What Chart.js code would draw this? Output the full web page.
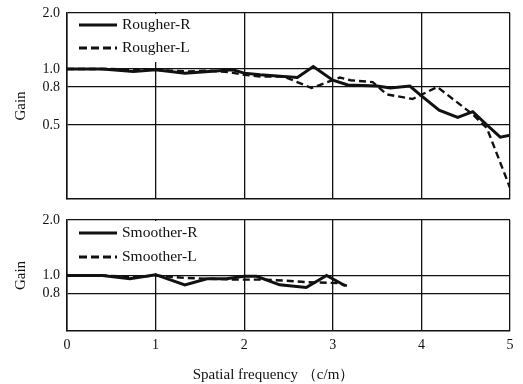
<!DOCTYPE html>
<html>
<head>
<meta charset="utf-8">
<script src="https://cdn.jsdelivr.net/npm/chart.js@4"></script>
<style>
  body { margin: 0; background: #fff; }
  #wrap { position: relative; width: 523px; height: 384px; }
  #top { position: absolute; left: 0; top: 0; width: 523px; height: 205px; }
  #bot { position: absolute; left: 0; top: 205px; width: 523px; height: 179px; }
</style>
</head>
<body>
<div id="wrap">
  <div id="top"><canvas id="c1"></canvas></div>
  <div id="bot"><canvas id="c2"></canvas></div>
</div>
<script>
// x ticks (spatial frequency, c/m)
const xTicks = [0, 1, 2, 3, 4, 5];
const topYTicks = [0.5, 0.8, 1.0, 2.0];
const botYTicks = [0.8, 1.0, 2.0];

// Rougher, right / left
const rougherRx = [0, 0.4, 0.75, 1.0, 1.33, 1.6, 1.87, 2.0, 2.18, 2.6, 2.78, 3.0, 3.17, 3.5, 3.65, 3.87, 3.98, 4.2, 4.41, 4.58, 4.74, 4.89, 5.0];
const rougherRy = [1.0, 1.0, 0.97, 0.99, 0.95, 0.97, 0.99, 0.95, 0.93, 0.90, 1.03, 0.87, 0.82, 0.81, 0.79, 0.81, 0.73, 0.60, 0.55, 0.59, 0.50, 0.43, 0.44];
const rougherLx = [0, 0.5, 1.0, 1.35, 1.6, 1.84, 2.0, 2.2, 2.45, 2.76, 3.08, 3.2, 3.45, 3.61, 3.9, 4.18, 4.58, 4.74, 5.0];
const rougherLy = [1.0, 1.0, 0.99, 0.97, 0.98, 0.96, 0.93, 0.91, 0.91, 0.79, 0.90, 0.87, 0.85, 0.73, 0.69, 0.80, 0.57, 0.48, 0.23];

// Smoother, right / left
const smootherRx = [0, 0.4, 0.71, 1.0, 1.33, 1.58, 1.8, 2.0, 2.14, 2.4, 2.7, 2.93, 3.14];
const smootherRy = [1.0, 1.0, 0.96, 1.01, 0.89, 0.96, 0.96, 0.99, 0.99, 0.89, 0.86, 1.0, 0.88];
const smootherLx = [0, 0.4, 0.75, 1.0, 1.33, 1.6, 1.92, 2.18, 2.44, 2.7, 3.05, 3.16];
const smootherLy = [1.0, 1.0, 0.98, 1.0, 0.97, 0.96, 0.95, 0.95, 0.94, 0.92, 0.91, 0.88];

const FONT = "'Liberation Serif', 'Times New Roman', serif";
const INK = '#111';

function pts(xs, ys) {
  return xs.map((x, i) => ({ x: x, y: ys[i] }));
}

function series(label, xs, ys, dashed) {
  return {
    label: label,
    data: pts(xs, ys),
    borderColor: INK,
    borderWidth: dashed ? 2.4 : 3,
    borderDash: dashed ? [7, 4] : [],
    pointRadius: 0,
    tension: 0,
    fill: false
  };
}

// legend drawn inside the plot, top-left, on a white patch
const innerLegend = {
  id: 'innerLegend',
  afterDatasetsDraw(chart, args, opts) {
    const ctx = chart.ctx;
    const a = chart.chartArea;
    ctx.save();
    ctx.fillStyle = '#fff';
    ctx.fillRect(a.left + 1, a.top + 1, opts.boxW, opts.boxH);
    ctx.font = '15.5px ' + FONT;
    ctx.textBaseline = 'middle';
    chart.data.datasets.forEach((ds, i) => {
      const y = a.top + opts.firstRow + i * opts.rowGap;
      ctx.strokeStyle = INK;
      ctx.lineWidth = 3;
      ctx.setLineDash(ds.borderDash.length ? [8, 4] : []);
      ctx.beginPath();
      ctx.moveTo(a.left + 12, y);
      ctx.lineTo(a.left + 50, y);
      ctx.stroke();
      ctx.setLineDash([]);
      ctx.fillStyle = INK;
      ctx.fillText(ds.label, a.left + 55, y);
    });
    ctx.restore();
  }
};

function yAxis(min, ticks) {
  return {
    type: 'logarithmic',
    min: min,
    max: 2,
    afterFit: s => { s.width = 67; s.paddingTop = 0; s.paddingBottom = 0; },
    afterBuildTicks: s => { s.ticks = ticks.map(v => ({ value: v })); },
    ticks: {
      color: INK,
      font: { family: FONT, size: 14 },
      padding: 7,
      callback: v => v.toFixed(1)
    },
    grid: { color: INK, lineWidth: 1.3, drawTicks: false },
    border: { color: INK, width: 1.5 },
    title: {
      display: true,
      text: 'Gain',
      color: INK,
      font: { family: FONT, size: 15 },
      padding: { top: 12, bottom: 0 }
    }
  };
}

Chart.defaults.animation = false;

new Chart(document.getElementById('c1'), {
  type: 'line',
  data: {
    datasets: [
      series('Rougher-R', rougherRx, rougherRy, false),
      series('Rougher-L', rougherLx, rougherLy, true)
    ]
  },
  options: {
    responsive: true,
    maintainAspectRatio: false,
    layout: { padding: { left: 0, top: 13, right: 13, bottom: 6 } },
    plugins: {
      legend: { display: false },
      tooltip: { enabled: false },
      innerLegend: { boxW: 135, boxH: 48, firstRow: 12, rowGap: 23 }
    },
    scales: {
      x: {
        type: 'linear',
        min: 0,
        max: 5,
        afterFit: s => { s.height = 0; },
        afterBuildTicks: s => { s.ticks = xTicks.map(v => ({ value: v })); },
        ticks: { display: false },
        grid: { color: INK, lineWidth: 1.3, drawTicks: false },
        border: { color: INK, width: 1.5 }
      },
      y: yAxis(0.2, topYTicks)
    }
  },
  plugins: [innerLegend]
});

new Chart(document.getElementById('c2'), {
  type: 'line',
  data: {
    datasets: [
      series('Smoother-R', smootherRx, smootherRy, false),
      series('Smoother-L', smootherLx, smootherLy, true)
    ]
  },
  options: {
    responsive: true,
    maintainAspectRatio: false,
    layout: { padding: { left: 0, top: 15, right: 13, bottom: 0 } },
    plugins: {
      legend: { display: false },
      tooltip: { enabled: false },
      innerLegend: { boxW: 135, boxH: 52, firstRow: 13, rowGap: 24 }
    },
    scales: {
      x: {
        type: 'linear',
        min: 0,
        max: 5,
        afterFit: s => { s.height = 53; },
        afterBuildTicks: s => { s.ticks = xTicks.map(v => ({ value: v })); },
        ticks: {
          color: INK,
          font: { family: FONT, size: 14 },
          padding: 6,
          maxRotation: 0
        },
        grid: { color: INK, lineWidth: 1.3, drawTicks: false },
        border: { color: INK, width: 1.5 },
        title: {
          display: true,
          text: 'Spatial frequency （c/m）　　',
          color: INK,
          font: { family: FONT, size: 15 },
          padding: { top: 0, bottom: 0 }
        }
      },
      y: yAxis(0.5, botYTicks)
    }
  },
  plugins: [innerLegend]
});
</script>
</body>
</html>
